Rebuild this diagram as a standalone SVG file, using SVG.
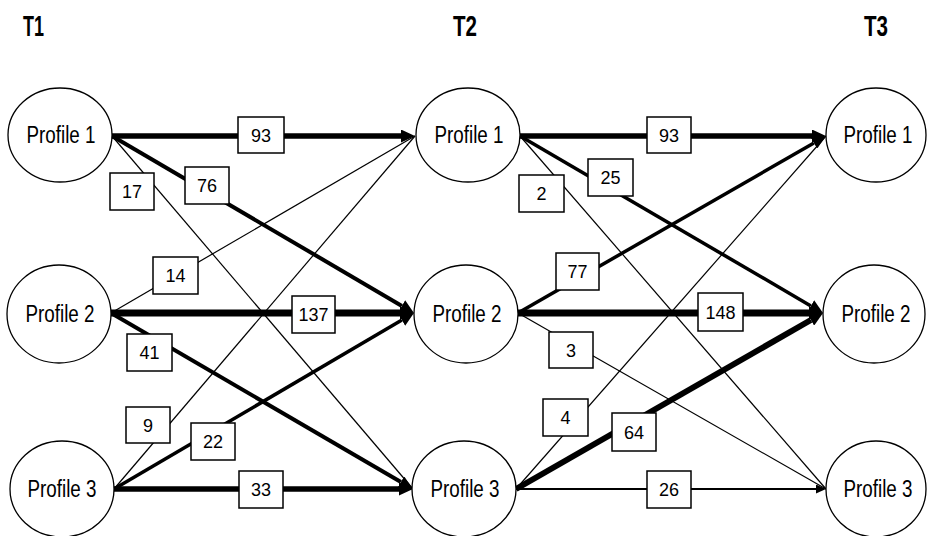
<svg xmlns="http://www.w3.org/2000/svg" width="927" height="536" viewBox="0 0 927 536">
<style>
.bg{fill:#fff}
.node ellipse{fill:#fff;stroke:#000;stroke-width:1.3}
.node text{font-family:"Liberation Sans",Arial,sans-serif;font-size:23px;fill:#000;text-anchor:middle}
.hdr{font-family:"Liberation Sans",Arial,sans-serif;font-weight:bold;font-size:30px;fill:#000}
.e{fill:none;stroke:#000;stroke-linecap:butt}
.lb rect{fill:#fff;stroke:#000;stroke-width:1.5}
.lb text{font-family:"Liberation Sans",Arial,sans-serif;font-size:18px;fill:#000;text-anchor:middle}
</style>
<defs>
<marker id="ah" markerUnits="userSpaceOnUse" markerWidth="14" markerHeight="13" viewBox="0 0 14 13" refX="0" refY="6.5" orient="auto">
<path d="M0,0 L14,6.5 L0,13 z" fill="#000"/>
</marker>
<marker id="ahs" markerUnits="userSpaceOnUse" markerWidth="10" markerHeight="9" viewBox="0 0 10 9" refX="0" refY="4.5" orient="auto">
<path d="M0,0 L10,4.5 L0,9 z" fill="#000"/>
</marker>
</defs>
<rect class="bg" width="927" height="536"/>
<text class="hdr" x="23" y="36" textLength="21" lengthAdjust="spacingAndGlyphs">T1</text>
<text class="hdr" x="453" y="36" textLength="24" lengthAdjust="spacingAndGlyphs">T2</text>
<text class="hdr" x="864" y="36" textLength="24" lengthAdjust="spacingAndGlyphs">T3</text>
<g id="connectors">
<line class="e" x1="112" y1="136" x2="401" y2="136" stroke-width="5.5" marker-end="url(#ah)"/>
<line class="e" x1="112" y1="136" x2="401.9" y2="305.9" stroke-width="4" marker-end="url(#ah)"/>
<line class="e" x1="112" y1="136" x2="413" y2="489" stroke-width="1.2"/>
<line class="e" x1="111" y1="313" x2="415" y2="136" stroke-width="1.2"/>
<line class="e" x1="111" y1="313" x2="400" y2="313" stroke-width="7" marker-end="url(#ah)"/>
<line class="e" x1="111" y1="313" x2="400.9" y2="482" stroke-width="4" marker-end="url(#ah)"/>
<line class="e" x1="114" y1="489" x2="415" y2="136" stroke-width="1.2"/>
<line class="e" x1="114" y1="489" x2="401.9" y2="320.1" stroke-width="3.5" marker-end="url(#ah)"/>
<line class="e" x1="114" y1="489" x2="399" y2="489" stroke-width="5.5" marker-end="url(#ah)"/>
<line class="e" x1="520" y1="136" x2="812" y2="136" stroke-width="5.5" marker-end="url(#ah)"/>
<line class="e" x1="520" y1="136" x2="810.9" y2="305.9" stroke-width="3.5" marker-end="url(#ah)"/>
<line class="e" x1="520" y1="136" x2="826" y2="489" stroke-width="1.2"/>
<line class="e" x1="518" y1="313" x2="813.9" y2="143" stroke-width="3.5" marker-end="url(#ah)"/>
<line class="e" x1="518" y1="313" x2="809" y2="313" stroke-width="7" marker-end="url(#ah)"/>
<line class="e" x1="518" y1="313" x2="826" y2="489" stroke-width="1.2"/>
<line class="e" x1="516" y1="489" x2="826" y2="136" stroke-width="1.2"/>
<line class="e" x1="516" y1="489" x2="810.9" y2="320" stroke-width="6" marker-end="url(#ah)"/>
<line class="e" x1="516" y1="489" x2="816" y2="489" stroke-width="2" marker-end="url(#ahs)"/>
<g class="lb">
<rect x="238" y="117" width="46" height="36"/><text x="261" y="141.5">93</text>
<rect x="185" y="167" width="44" height="37"/><text x="207" y="192">76</text>
<rect x="110" y="173" width="44" height="37"/><text x="132" y="198">17</text>
<rect x="153" y="257" width="45" height="37"/><text x="175.5" y="282">14</text>
<rect x="292" y="296" width="43" height="37"/><text x="313.5" y="321">137</text>
<rect x="127" y="334" width="45" height="37"/><text x="149.5" y="359">41</text>
<rect x="126" y="407" width="44" height="36"/><text x="148" y="431.5">9</text>
<rect x="191" y="423" width="44" height="37"/><text x="213" y="448">22</text>
<rect x="239" y="471" width="44" height="37"/><text x="261" y="496">33</text>
<rect x="647" y="117" width="44" height="36"/><text x="669" y="141.5">93</text>
<rect x="588" y="159" width="45" height="37"/><text x="610.5" y="184">25</text>
<rect x="519" y="175" width="45" height="37"/><text x="541.5" y="200">2</text>
<rect x="556" y="253" width="43" height="37"/><text x="577.5" y="278">77</text>
<rect x="698" y="293" width="45" height="38"/><text x="720.5" y="318.5">148</text>
<rect x="549" y="332" width="44" height="36"/><text x="571" y="356.5">3</text>
<rect x="543" y="399" width="45" height="37"/><text x="565.5" y="424">4</text>
<rect x="612" y="413" width="44" height="38"/><text x="634" y="438.5">64</text>
<rect x="647" y="471" width="44" height="37"/><text x="669" y="496">26</text>
</g>
</g>
<g id="t1-p1" class="node"><ellipse cx="60" cy="135" rx="52" ry="47"/><text x="61" y="143" textLength="69" lengthAdjust="spacingAndGlyphs">Profile 1</text></g>
<g id="t1-p2" class="node"><ellipse cx="59" cy="314" rx="52" ry="49"/><text x="60" y="322" textLength="69" lengthAdjust="spacingAndGlyphs">Profile 2</text></g>
<g id="t1-p3" class="node"><ellipse cx="62" cy="489" rx="52" ry="48"/><text x="62" y="497" textLength="69" lengthAdjust="spacingAndGlyphs">Profile 3</text></g>
<g id="t2-p1" class="node"><ellipse cx="468" cy="135" rx="52" ry="47"/><text x="469" y="143" textLength="69" lengthAdjust="spacingAndGlyphs">Profile 1</text></g>
<g id="t2-p2" class="node"><ellipse cx="466" cy="314" rx="52" ry="49"/><text x="467" y="322" textLength="69" lengthAdjust="spacingAndGlyphs">Profile 2</text></g>
<g id="t2-p3" class="node"><ellipse cx="464" cy="489" rx="52" ry="48"/><text x="465" y="497" textLength="69" lengthAdjust="spacingAndGlyphs">Profile 3</text></g>
<g id="t3-p1" class="node"><ellipse cx="876" cy="135" rx="50" ry="47"/><text x="878" y="143" textLength="69" lengthAdjust="spacingAndGlyphs">Profile 1</text></g>
<g id="t3-p2" class="node"><ellipse cx="874" cy="314" rx="51" ry="49"/><text x="876" y="322" textLength="69" lengthAdjust="spacingAndGlyphs">Profile 2</text></g>
<g id="t3-p3" class="node"><ellipse cx="876" cy="489" rx="50" ry="48"/><text x="878" y="497" textLength="69" lengthAdjust="spacingAndGlyphs">Profile 3</text></g>
</svg>
